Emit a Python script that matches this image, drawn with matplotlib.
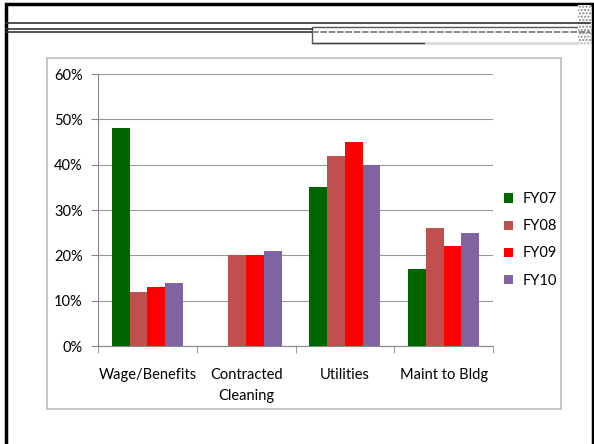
import matplotlib.pyplot as plt
import numpy as np
from matplotlib.patches import Rectangle
from matplotlib.lines import Line2D

categories = ["Wage/Benefits", "Contracted\nCleaning", "Utilities", "Maint to Bldg"]
series_names = ["FY07", "FY08", "FY09", "FY10"]
fy07 = [48, 0, 35, 17]
fy08 = [12, 20, 42, 26]
fy09 = [13, 20, 45, 22]
fy10 = [14, 21, 40, 25]
colors = ["#006600", "#C0504D", "#FF0000", "#8064A2"]

plt.rcParams['font.family'] = ['Lato', 'DejaVu Sans']

fig = plt.figure(figsize=(5.94, 4.44), dpi=100)

# slide decoration
fig.add_artist(Rectangle((6 / 594, -0.05), 587 / 594, 1.05 - 4 / 444, transform=fig.transFigure,
                         fill=False, edgecolor="black", linewidth=2.5))
for yy in [23, 29, 32]:
    fig.add_artist(Line2D([6 / 594, 312 / 594 if yy != 23 else 590 / 594], [1 - yy / 444] * 2,
                          transform=fig.transFigure, color="#333333", linewidth=1.2))
fig.add_artist(Rectangle((312 / 594, 1 - 43 / 444), 278 / 594, 16 / 444, transform=fig.transFigure,
                         fill=False, edgecolor="#555555", linewidth=1))
fig.add_artist(Line2D([312 / 594, 590 / 594], [1 - 32 / 444] * 2, transform=fig.transFigure,
                      color="#777777", linewidth=1.2, linestyle=(0, (4, 1))))
fig.add_artist(Line2D([312 / 594, 590 / 594], [1 - 43 / 444] * 2, transform=fig.transFigure,
                      color="#DDDDDD", linewidth=1))
fig.add_artist(Line2D([312 / 594, 424 / 594], [1 - 43 / 444] * 2, transform=fig.transFigure,
                      color="#444444", linewidth=1))
fig.add_artist(Rectangle((578 / 594, 1 - 45 / 444), 13 / 594, 40 / 444, transform=fig.transFigure,
                         facecolor="white", edgecolor="#888888", linewidth=0, hatch="....."))

# chart border
fig.add_artist(Rectangle((47 / 594, 1 - 409 / 444), 514 / 594, 351 / 444, transform=fig.transFigure,
                         fill=False, edgecolor="#BBBBBB", linewidth=1.2))

ax = fig.add_axes([98 / 594, 1 - 346 / 444, 395 / 594, 272 / 444])

x = np.arange(len(categories))
w = 0.18
data = [fy07, fy08, fy09, fy10]
for i, (vals, name, c) in enumerate(zip(data, series_names, colors)):
    ax.bar(x + (i - 1.5) * w, vals, w, color=c, label=name, zorder=3)

ax.set_xlim(-0.5, len(categories) - 0.5)
ax.set_ylim(0, 60)
ax.set_yticks(range(0, 61, 10))
ax.set_yticklabels([f"{v}%" for v in range(0, 61, 10)], fontsize=10.5)
ax.yaxis.grid(True, color="#999999", linewidth=0.8, zorder=0)
ax.set_xticks(x)
ax.set_xticklabels(categories, fontsize=10.5, linespacing=1.6)
ax.set_xticks(np.arange(-0.5, len(categories)), minor=True)
ax.tick_params(axis="x", which="major", length=0, pad=16)
ax.tick_params(axis="x", which="minor", length=5, color="#888888")
ax.tick_params(axis="y", length=5, color="#888888", pad=6)
for s in ["top", "right"]:
    ax.spines[s].set_visible(False)
for s in ["left", "bottom"]:
    ax.spines[s].set_color("#888888")

ax.legend(loc="center left", bbox_to_anchor=(0.995, 0.39), frameon=False, fontsize=10.5,
          handlelength=0.6, handleheight=0.6, labelspacing=0.9, handletextpad=0.7)

fig.savefig("out.png", dpi=100)
